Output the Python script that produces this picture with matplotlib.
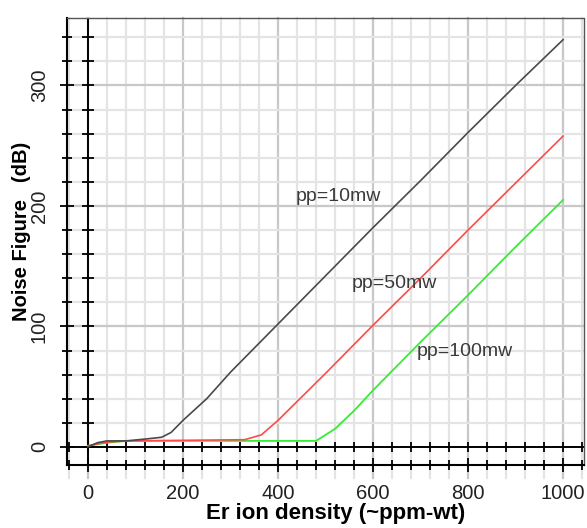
import numpy as np
import matplotlib
matplotlib.use("Agg")
import matplotlib.pyplot as plt
from matplotlib.ticker import MultipleLocator

plt.rcParams['font.family'] = ['Liberation Sans', 'DejaVu Sans']

# ---- data ----
x_10mw = [0, 20, 40, 80, 120, 155, 175, 200, 250, 300, 400, 500, 600, 700, 800, 900, 1000]
y_10mw = [0, 3.5, 5, 5, 6.5, 8, 12, 22, 40, 62, 102, 142, 182, 221, 261, 300, 338]

x_50mw = [0, 40, 80, 330, 365, 400, 500, 600, 700, 800, 900, 1000]
y_50mw = [1, 4, 5, 6, 10, 22, 61, 101, 140, 180, 219, 258]

x_100mw = [0, 40, 80, 480, 520, 560, 600, 700, 800, 900, 1000]
y_100mw = [1, 3.5, 5, 5, 15, 30, 47, 87, 126, 166, 205]

labels = ["pp=10mw", "pp=50mw", "pp=100mw"]
label_x = [528, 644, 794]
label_y = [208, 136, 79]

x_ticks = [0, 200, 400, 600, 800, 1000]
y_ticks = [0, 100, 200, 300]
x_label = "Er ion density (~ppm-wt)"
y_label = "Noise Figure   (dB)"

W, H = 587, 528
fig = plt.figure(figsize=(W / 100, H / 100), dpi=100)
ax = fig.add_axes([67 / W, 63 / H, 517 / W, 447 / H])
ax.set_xlim(-44, 1044)
ax.set_ylim(-15, 356)

# grid
minor_col = '#e4e4e4'
major_col = '#c8c8c8'
for xv in np.arange(-40, 1041, 40):
    col = major_col if xv % 200 == 0 else minor_col
    ax.axvline(xv, ymin=-0.028, ymax=1, color=col, lw=1.6, zorder=0, clip_on=False)
for yv in np.arange(20, 341, 20):
    col = major_col if yv % 100 == 0 else minor_col
    ax.axhline(yv, color=col, lw=1.6, zorder=0)

# axis lines at zero
ax.axhline(0, color='black', lw=1.4, zorder=2)
ax.axvline(0, color='black', lw=1.4, zorder=2)
ax.plot(np.arange(-40, 1041, 40), np.zeros(len(np.arange(-40, 1041, 40))),
        ls='none', marker='|', ms=7, mew=1.3, color='black', zorder=2)
ax.plot(np.zeros(len(np.arange(0, 341, 20))), np.arange(0, 341, 20),
        ls='none', marker='_', ms=8, mew=1.3, color='black', zorder=2)

# curves
ax.plot(x_100mw, y_100mw, color='#33ee33', lw=1.3, zorder=3)
ax.plot(x_50mw, y_50mw, color='#ff4a4a', lw=1.2, zorder=4)
ax.plot(x_10mw, y_10mw, color='#4a4a4a', lw=1.2, zorder=5)

for t, lx, ly in zip(labels, label_x, label_y):
    ax.text(lx, ly, t, fontsize=14, color='#3a3a3a', ha='center', va='center', zorder=6)

# spines
ax.spines['left'].set_linewidth(1.5)
ax.spines['left'].set_color('black')
ax.spines['bottom'].set_linewidth(1.5)
ax.spines['bottom'].set_linestyle((0, (1, 1)))
ax.spines['bottom'].set_color('black')
for s in ['top', 'right']:
    ax.spines[s].set_linestyle((0, (1, 1)))
    ax.spines[s].set_color('#555555')
    ax.spines[s].set_linewidth(1.0)

ax.set_xticks(x_ticks)
ax.set_yticks(y_ticks)
ax.xaxis.set_minor_locator(MultipleLocator(40))
ax.yaxis.set_minor_locator(MultipleLocator(20))
ax.tick_params(axis='both', which='major', direction='inout', length=10, width=1.3,
               labelsize=14.5, colors='black')
ax.tick_params(axis='both', which='minor', direction='inout', length=7, width=1.3)
ax.tick_params(axis='x', which='major', pad=9)
ax.tick_params(axis='y', which='major', pad=8, labelrotation=90)
for lab in ax.get_yticklabels():
    lab.set_va('center')
for lab in ax.get_xticklabels() + ax.get_yticklabels():
    lab.set_color('#222222')

fig.text(336 / W, 15 / H, x_label, fontsize=16, fontweight='bold', ha='center', va='center')
fig.text(22 / W, 297 / H, y_label, fontsize=14.5, fontweight='bold', rotation=90,
         ha='center', va='center')

fig.savefig('out.png', dpi=100)
